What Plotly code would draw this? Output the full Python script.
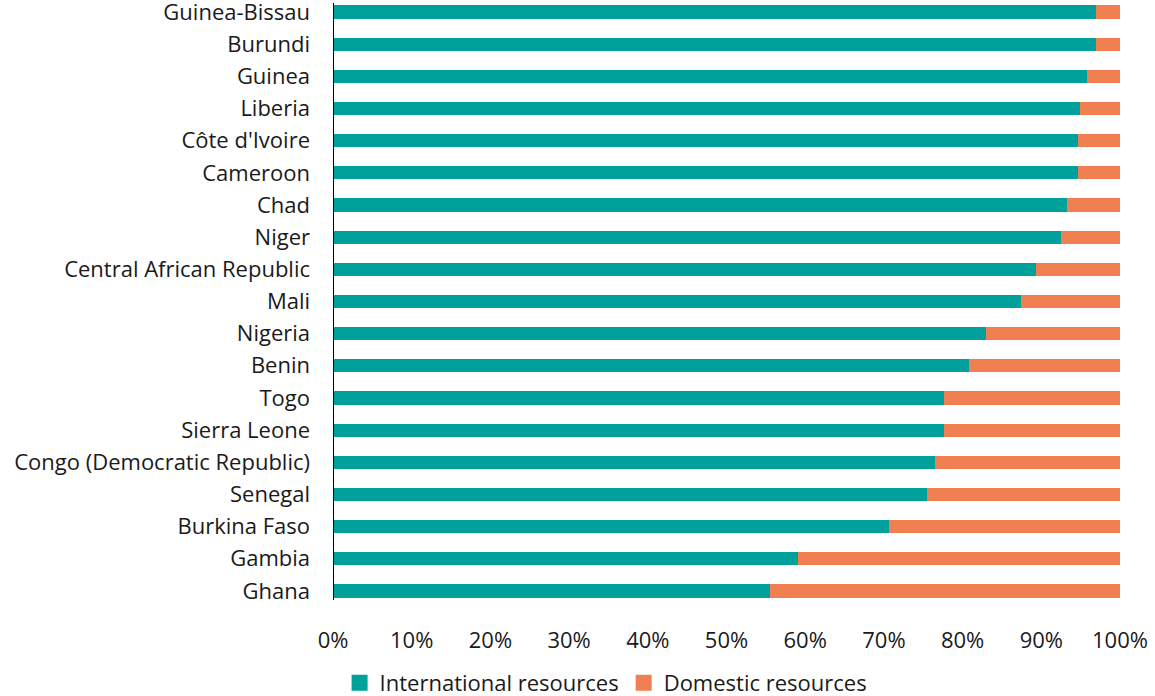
import plotly.graph_objects as go

countries = ["Ghana", "Gambia", "Burkina Faso", "Senegal", "Congo (Democratic Republic)",
             "Sierra Leone", "Togo", "Benin", "Nigeria", "Mali", "Central African Republic",
             "Niger", "Chad", "Cameroon", "Côte d'Ivoire", "Liberia", "Guinea", "Burundi",
             "Guinea-Bissau"]
international = [55.5, 59.1, 70.6, 75.5, 76.5, 77.6, 77.6, 80.8, 83.0, 87.4, 89.3,
                 92.5, 93.3, 94.7, 94.7, 94.9, 95.8, 96.9, 96.9]
domestic = [round(100 - v, 1) for v in international]
series_names = ["International resources", "Domestic resources"]

teal = "#00A19A"
orange = "#F07F51"

fig = go.Figure()
fig.add_trace(go.Bar(y=countries, x=international, orientation="h", name=series_names[0],
                     marker=dict(color=teal, line=dict(width=0)), width=0.41, showlegend=False))
fig.add_trace(go.Bar(y=countries, x=domestic, orientation="h", name=series_names[1],
                     marker=dict(color=orange, line=dict(width=0)), width=0.41, showlegend=False))
# legend entries with larger square swatches
for nm, col in zip(series_names, [teal, orange]):
    fig.add_trace(go.Scatter(x=[None], y=[None], mode="markers", name=nm,
                             marker=dict(symbol="square", size=18, color=col)))

font = "'Open Sans', 'Noto Sans', sans-serif"
fig.update_layout(
    barmode="stack",
    width=1155, height=696,
    margin=dict(l=333, r=35, t=3, b=89, autoexpand=False),
    plot_bgcolor="white", paper_bgcolor="white",
    font=dict(family=font, size=22, color="#1a1a1a"),
    showlegend=True,
    legend=dict(orientation="h", x=0.347, xanchor="center",
                yref="container", y=0.0187, yanchor="middle",
                font=dict(size=22), traceorder="normal", itemwidth=30,
                tracegroupgap=0),
    xaxis=dict(range=[0, 100], tickvals=[0, 10, 20, 30, 40, 50, 60, 70, 80, 90, 100],
               ticktext=[f"{v}%" for v in range(0, 101, 10)], showgrid=False, zeroline=False,
               showline=False, ticks="", ticklabelstandoff=18, automargin=False),
    yaxis=dict(categoryorder="array", categoryarray=countries, range=[-0.5, 18.28],
               showline=False, showgrid=False, ticks="", zeroline=False,
               ticklabelstandoff=22, automargin=False),
    bargap=0.59,
    shapes=[dict(type="line", xref="x", yref="y", x0=0, x1=0, y0=-0.28, y1=18.28,
                 line=dict(color="black", width=2))],
)

fig.write_html("out.html", config={"displayModeBar": False})
# remove the browser's default body margin so the figure sits at the page origin
with open("out.html", encoding="utf-8") as f:
    html = f.read()
html = html.replace("<head>", "<head><style>html,body{margin:0;padding:0;overflow:hidden}</style>", 1)
with open("out.html", "w", encoding="utf-8") as f:
    f.write(html)
